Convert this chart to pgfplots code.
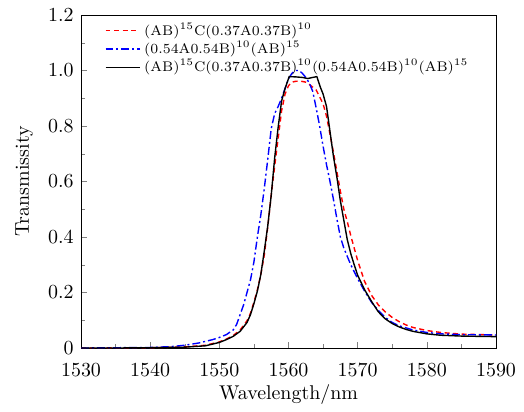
\documentclass[border=0pt]{standalone}
\usepackage{pgfplots}
\pgfplotsset{compat=1.18}
\begin{document}
\begin{tikzpicture}
\begin{axis}[
  scale only axis, width=207.5bp, height=166.5bp,
  xmin=1530, xmax=1590, ymin=0, ymax=1.2,
  xtick={1530,1540,...,1590}, minor x tick num=1,
  ytick={0,0.2,...,1.2}, yticklabels={0,0.2,0.4,0.6,0.8,1.0,1.2}, minor y tick num=1,
  tick align=inside, xtick pos=bottom, ytick pos=left,
  major tick length=3bp, minor tick length=1.8bp,
  xticklabel style={/pgf/number format/1000 sep={}, inner sep=0pt, anchor=north, yshift=-7.5bp},
  yticklabel style={inner sep=0pt, anchor=east, xshift=-3.5bp},
  xlabel={Wavelength/nm}, ylabel={Transmissity},
  xlabel style={at={(axis description cs:0.5,-0.14)}, anchor=center},
  ylabel style={at={(axis description cs:-0.137,0.5)}, anchor=center, rotate=0},
  legend style={at={(axis description cs:0.042,1.002)}, anchor=north west, draw=none, fill=none,
    font=\fontsize{7}{9}\selectfont, row sep=-2.5pt},
  legend cell align=left,
]
\addplot[red, line width=0.7pt, dash pattern=on 2.5pt off 1.8pt] coordinates {
(1530,0) (1540,0.001) (1545,0.004) (1548,0.01) (1550,0.022) (1551,0.032) (1552,0.045) (1553,0.065)
(1554,0.098) (1554.5,0.125) (1555,0.165) (1555.5,0.21) (1556,0.265) (1556.5,0.335) (1557,0.435)
(1557.5,0.55) (1558,0.655) (1558.5,0.755) (1559,0.855) (1559.5,0.915) (1560,0.945) (1560.5,0.958)
(1561,0.961) (1561.7,0.962) (1562.5,0.958) (1563,0.95) (1563.5,0.94) (1564,0.93) (1564.5,0.905)
(1565,0.88) (1565.5,0.835) (1566,0.77) (1566.5,0.705) (1567,0.635) (1567.5,0.565) (1568,0.5)
(1568.5,0.455) (1569,0.405) (1569.5,0.36) (1570,0.315) (1571,0.24) (1572,0.19) (1573,0.155)
(1574,0.13) (1575,0.11) (1576,0.095) (1577,0.083) (1578,0.074) (1580,0.063) (1582,0.056)
(1585,0.05) (1590,0.047)
};
\addlegendentry{(AB)$^{15}$C(0.37A0.37B)$^{10}$}
\addplot[blue, line width=0.7pt, dash pattern=on 4pt off 1.5pt on 1pt off 1.5pt] coordinates {
(1530,0) (1540,0.002) (1543,0.005) (1545,0.01) (1547,0.018) (1549,0.03) (1550,0.038) (1551,0.048)
(1552,0.065) (1552.5,0.085) (1553,0.12) (1553.5,0.155) (1554,0.2) (1554.5,0.245) (1555,0.31)
(1555.5,0.4) (1556,0.48) (1556.5,0.575) (1557,0.68) (1557.5,0.79) (1558,0.845) (1558.5,0.87)
(1559,0.9) (1559.5,0.935) (1560,0.97) (1560.5,0.99) (1561,1.0) (1561.5,1.0) (1562,0.99)
(1562.5,0.975) (1563,0.955) (1563.5,0.925) (1564,0.865) (1564.5,0.8) (1565,0.727) (1565.5,0.66)
(1566,0.6) (1566.5,0.535) (1567,0.465) (1567.5,0.4) (1568,0.36) (1568.5,0.33) (1569,0.3)
(1569.5,0.275) (1570,0.25) (1571,0.205) (1572,0.165) (1573,0.135) (1574,0.11) (1575,0.092)
(1576,0.08) (1578,0.065) (1580,0.056) (1582,0.051) (1585,0.048) (1590,0.047)
};
\addlegendentry{(0.54A0.54B)$^{10}$(AB)$^{15}$}
\addplot[black, line width=0.7pt] coordinates {
(1530,0) (1535,0) (1540,0.001) (1545,0.003) (1548,0.008) (1550,0.02) (1551,0.03) (1552,0.042)
(1553,0.06) (1554,0.092) (1554.5,0.12) (1555,0.16) (1555.5,0.205) (1556,0.265) (1556.5,0.35)
(1557,0.44) (1557.5,0.55) (1558,0.685) (1558.5,0.795) (1559,0.89) (1559.5,0.935) (1560.1,0.978)
(1561,0.977) (1562,0.975) (1562.8,0.971) (1563.3,0.974) (1564.1,0.978) (1564.6,0.94) (1565,0.915)
(1565.5,0.87) (1566,0.78) (1566.5,0.69) (1567,0.615) (1567.5,0.53) (1568,0.46) (1568.5,0.39)
(1569,0.34) (1569.5,0.3) (1570,0.262) (1571,0.21) (1572,0.168) (1573,0.13) (1574,0.105)
(1575,0.088) (1576,0.076) (1577,0.067) (1578,0.06) (1580,0.051) (1582,0.046) (1585,0.043)
(1590,0.041)
};
\addlegendentry{(AB)$^{15}$C(0.37A0.37B)$^{10}$(0.54A0.54B)$^{10}$(AB)$^{15}$}
\end{axis}
\path ([shift={(-40.5bp,-27.5bp)}]current axis.south west) rectangle ([shift={(14bp,7.5bp)}]current axis.north east);
\end{tikzpicture}
\end{document}
